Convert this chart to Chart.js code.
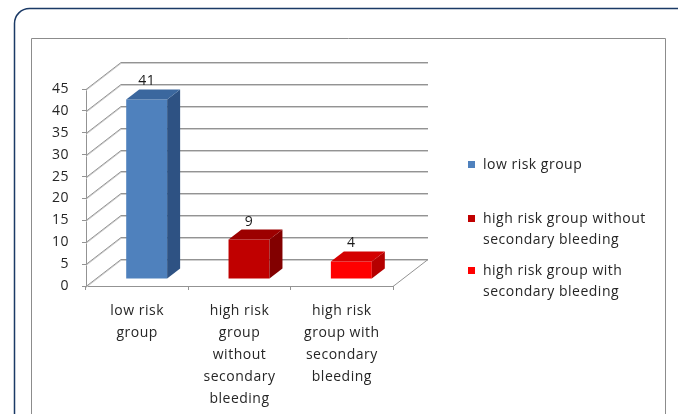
<!DOCTYPE html>
<html>
<head>
<meta charset="utf-8">
<script src="https://cdn.jsdelivr.net/npm/chart.js@4.4.0/dist/chart.umd.min.js"></script>
<style>
  html, body { margin: 0; padding: 0; background: #ffffff; }
  #wrap { width: 678px; height: 414px; position: relative; }
  canvas { display: block; }
</style>
</head>
<body>
<div id="wrap"><canvas id="chart" width="678" height="414"></canvas></div>
<script>
// Category labels under the floor (one entry per line of text)
const categories = [
  ['low risk', 'group'],
  ['high risk', 'group', 'without', 'secondary', 'bleeding'],
  ['high risk', 'group with', 'secondary', 'bleeding']
];
// Legend entries (wrapped the same way they are shown)
const legendNames = [
  ['low risk group'],
  ['high risk group without', 'secondary bleeding'],
  ['high risk group with', 'secondary bleeding']
];
// Number of patients per group
const patientCounts = [41, 9, 4];
// Value axis
const yMin = 0;
const yMax = 45;
const yStep = 5;

// Face colours of the 3-D columns
const frontColors = ['#4F81BD', '#C00000', '#FF0000'];
const topColors   = ['#3B679E', '#9C0000', '#D40000'];
const sideColors  = ['#2E5283', '#820000', '#B50000'];

const FONT = '"Open Sans", "Liberation Sans", sans-serif';
const TEXT = '#262626';
const GRID = '#939393';

// Perspective offsets
const WALL = { dx: 35, dy: -27 };   // full depth of floor / side wall
const SHIFT = { dx: 9.5, dy: -7 };  // front plane of the columns
const COL = { dx: 13, dy: -10 };    // depth of each column

const frame3d = {
  id: 'frame3d',
  beforeDraw(chart) {
    const ctx = chart.ctx;
    ctx.save();
    ctx.fillStyle = '#ffffff';
    ctx.fillRect(0, 0, chart.width, chart.height);
    // outer rounded panel
    ctx.strokeStyle = '#1B3A66';
    ctx.lineWidth = 1.5;
    ctx.beginPath();
    const x0 = 14.5, y0 = 8.5, r = 15;
    ctx.moveTo(x0, chart.height + 5);
    ctx.lineTo(x0, y0 + r);
    ctx.arcTo(x0, y0, x0 + r, y0, r);
    ctx.lineTo(chart.width + 5, y0);
    ctx.stroke();
    // inner chart box
    ctx.strokeStyle = '#8c8c8c';
    ctx.lineWidth = 1;
    ctx.beginPath();
    ctx.moveTo(31.5, chart.height + 5);
    ctx.lineTo(31.5, 38.5);
    ctx.lineTo(665.5, 38.5);
    ctx.lineTo(665.5, chart.height + 5);
    ctx.stroke();
    ctx.restore();
    ctx.letterSpacing = '0.5px';
  },
  beforeDatasetsDraw(chart) {
    const ctx = chart.ctx;
    const ys = chart.scales.y, xs = chart.scales.x;
    const L = xs.left, R = xs.right, B = ys.getPixelForValue(yMin);
    ctx.save();
    ctx.lineWidth = 1;
    for (let v = yMin; v <= yMax; v += yStep) {
      const y = Math.round(ys.getPixelForValue(v)) + 0.5;
      // soft shadow line under each grid line
      ctx.strokeStyle = '#cfcfcf';
      ctx.beginPath();
      ctx.moveTo(L, y + 1);
      ctx.lineTo(L + WALL.dx, y + 1 + WALL.dy);
      ctx.lineTo(R + WALL.dx, y + 1 + WALL.dy);
      ctx.stroke();
      ctx.strokeStyle = GRID;
      ctx.beginPath();
      ctx.moveTo(L, y);
      ctx.lineTo(L + WALL.dx, y + WALL.dy);
      ctx.lineTo(R + WALL.dx, y + WALL.dy);
      ctx.stroke();
    }
    // right edge of the floor
    const by = Math.round(B) + 0.5;
    ctx.strokeStyle = GRID;
    ctx.beginPath();
    ctx.moveTo(R, by);
    ctx.lineTo(R + WALL.dx, by + WALL.dy);
    ctx.stroke();
    ctx.restore();
    // columns stand slightly behind the front edge of the floor
    ctx.save();
    ctx.translate(SHIFT.dx, SHIFT.dy);
  },
  afterDatasetsDraw(chart) {
    const ctx = chart.ctx;
    const meta = chart.getDatasetMeta(0);
    meta.data.forEach((bar, i) => {
      const l = bar.x - bar.width / 2, r = bar.x + bar.width / 2;
      const t = bar.y, b = bar.base;
      ctx.fillStyle = sideColors[i];
      ctx.beginPath();
      ctx.moveTo(r, t);
      ctx.lineTo(r + COL.dx, t + COL.dy);
      ctx.lineTo(r + COL.dx, b + COL.dy);
      ctx.lineTo(r, b);
      ctx.closePath();
      ctx.fill();
      ctx.fillStyle = topColors[i];
      ctx.beginPath();
      ctx.moveTo(l, t);
      ctx.lineTo(l + COL.dx, t + COL.dy);
      ctx.lineTo(r + COL.dx, t + COL.dy);
      ctx.lineTo(r, t);
      ctx.closePath();
      ctx.fill();
      // value label
      ctx.fillStyle = '#1a1a1a';
      ctx.font = '14px ' + FONT;
      ctx.textAlign = 'center';
      ctx.textBaseline = 'middle';
      ctx.fillText(String(chart.data.datasets[0].data[i]), bar.x, t - 18);
    });
    ctx.restore();
  },
  afterDraw(chart) {
    const ctx = chart.ctx;
    ctx.save();
    ctx.font = '14px ' + FONT;
    ctx.textAlign = 'left';
    ctx.textBaseline = 'middle';
    const rows = [165, 219, 271];
    legendNames.forEach((lines, i) => {
      ctx.fillStyle = frontColors[i];
      ctx.fillRect(468, rows[i] - 4, 7, 7);
      ctx.fillStyle = TEXT;
      lines.forEach((s, k) => ctx.fillText(s, 483, rows[i] + k * 21.5));
    });
    ctx.restore();
  }
};

new Chart(document.getElementById('chart'), {
  type: 'bar',
  data: {
    labels: categories,
    datasets: [{
      data: patientCounts,
      backgroundColor: frontColors,
      borderWidth: 0,
      categoryPercentage: 1,
      barPercentage: 0.4,
      clip: false
    }]
  },
  options: {
    responsive: false,
    animation: false,
    devicePixelRatio: 1,
    layout: { autoPadding: false, padding: { left: 30, right: 285, top: 89, bottom: 0 } },
    plugins: { legend: { display: false }, tooltip: { enabled: false } },
    scales: {
      x: {
        grid: { display: true, drawOnChartArea: false, drawTicks: true, tickLength: 4, color: GRID, offset: true },
        border: { display: true, color: GRID },
        ticks: { color: TEXT, font: { family: FONT, size: 14, lineHeight: '22px' }, padding: 10, maxRotation: 0, autoSkip: false },
        afterFit(s) { s.height = 128; }
      },
      y: {
        min: yMin, max: yMax,
        grid: { display: true, drawOnChartArea: false, drawTicks: true, tickLength: 4, color: GRID },
        border: { display: true, color: GRID },
        ticks: { stepSize: yStep, color: TEXT, font: { family: FONT, size: 14 }, padding: 13 },
        afterFit(s) { s.width = 56; }
      }
    }
  },
  plugins: [frame3d]
});
</script>
</body>
</html>
